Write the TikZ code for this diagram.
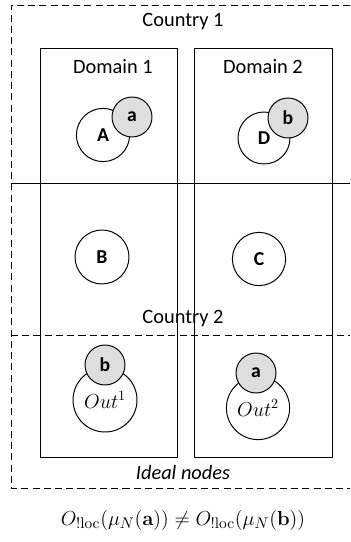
\documentclass[tikz,border=0pt]{standalone}
\usepackage[no-math]{fontspec}
\setmainfont{Carlito}
\usetikzlibrary{positioning}

\begin{document}
\begin{tikzpicture}[
    region/.style={line width=0.7pt, dash pattern=on 5pt off 3pt},
    domainbox/.style={draw, line width=0.7pt},
    hostnode/.style={draw, circle, line width=0.7pt, fill=white, inner sep=0pt, minimum size=1.33cm, font=\fontsize{14}{16}\selectfont\bfseries},
    outnode/.style={draw, circle, line width=0.7pt, fill=white, inner sep=0pt, minimum size=1.6cm, font=\fontsize{14}{16}\selectfont},
    usernode/.style={draw, circle, line width=0.7pt, fill=black!13, inner sep=0pt, minimum size=1cm, font=\fontsize{14}{16}\selectfont\bfseries},
    regiontext/.style={font=\fontsize{14.5}{17}\selectfont}
]
\useasboundingbox (0,0) rectangle (8.75,-13.55);

% Countries
\draw[region] (8.75,-0.125) -- (0.275,-0.125) -- (0.275,-12.2) -- (8.75,-12.2);
\draw[line width=0.7pt] (0.275,-4.575) -- (8.75,-4.575);
\draw[region] (0.275,-8.375) -- (8.75,-8.375);

% Domains
\draw[domainbox] (1.0,-1.2) rectangle (4.425,-11.425);
\draw[domainbox] (4.85,-1.2) rectangle (8.3,-11.425);

\node[regiontext] (country1) at (4.575,-0.55) {Country 1};
\node[regiontext] (dname1) at (2.825,-1.675) {Domain 1};
\node[regiontext] (dname2) at (6.575,-1.675) {Domain 2};
\node[regiontext] (country2) at (4.575,-7.975) {Country 2};
\node[regiontext, font=\fontsize{14.5}{17}\selectfont\itshape] (ideal) at (4.575,-11.8) {Ideal nodes};

% Country 1
\node[hostnode] (A) at (2.575,-3.375) {A};
\node[usernode] (ua) at (3.3,-2.925) {a};
\node[hostnode, minimum size=1.3cm] (D) at (6.6,-3.45) {D};
\node[usernode] (ub) at (7.2,-2.95) {b};

% Country 2
\node[hostnode, minimum size=1.35cm] (B) at (2.55,-6.425) {B};
\node[hostnode] (C) at (6.475,-6.475) {C};

% Ideal nodes
\node[outnode] (out1) at (2.625,-10.0) {$Out^1$};
\node[usernode] (ob) at (2.625,-9.125) {b};
\node[outnode, minimum size=1.58cm] (out2) at (6.45,-10.2) {$Out^2$};
\node[usernode] (oa) at (6.4,-9.325) {a};

\node[font=\fontsize{15.5}{18}\selectfont] (ineq) at (4.575,-13.0)
    {$O_{!\mathrm{loc}}(\mu_N(\mathbf{a})) \neq O_{!\mathrm{loc}}(\mu_N(\mathbf{b}))$};
\end{tikzpicture}
\end{document}
